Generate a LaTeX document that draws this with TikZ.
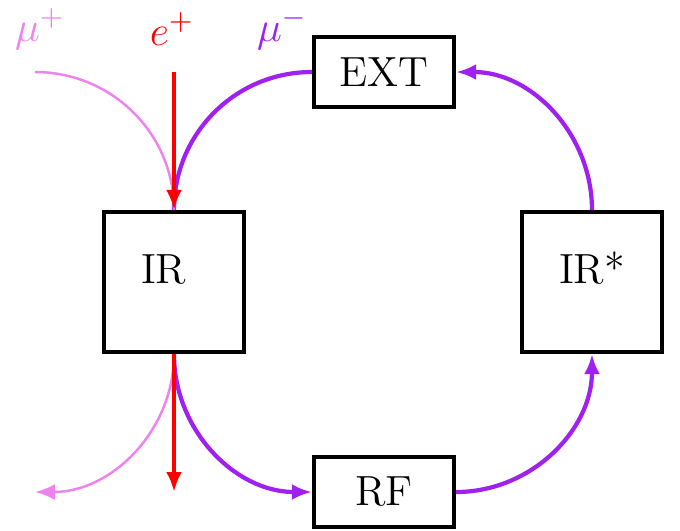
\documentclass[tikz,border=0pt]{standalone}
\usetikzlibrary{
  arrows.meta,
  positioning
}
\definecolor{mupurple}{RGB}{160,32,240}
\definecolor{mupink}{RGB}{238,130,238}

\begin{document}
\begin{tikzpicture}[
  font=\large,
  ring/.style={
    rectangle, draw=black, line width=1.2pt, fill=white,
    minimum width=1.4cm, minimum height=1.4cm, align=center,
    text depth=0.28cm
  },
  insert/.style={
    ring, minimum height=0.7cm, text depth=
  },
  muminus/.style={-{Latex[length=2mm,width=1.6mm]}, mupurple, line width=1.2pt},
  muplus/.style={-{Latex[length=2mm,width=1.6mm]}, mupink, line width=0.7pt},
  positron/.style={-{Latex[length=2mm,width=1.6mm]}, red, line width=1.2pt},
]
\useasboundingbox (0,0) rectangle (6.8,-5.3);

% Ring elements
\node[ring]   (ir)    at (1.74, -2.82) {IR\phantom{*}};
\node[ring]   (irs)   at (5.92, -2.82) {IR*};
\node[insert] (ext)   at (3.84, -0.72) {EXT};
\node[insert] (rf)    at (3.84, -4.92) {RF};

% Beam labels
\node[mupink]   (lmup) at (0.40, -0.29) {$\mu^+$};
\node[red]      (lep)  at (1.72, -0.29) {$e^+$};
\node[mupurple] (lmum) at (2.82, -0.29) {$\mu^-$};

% Free ends of the incoming and outgoing beams
\coordinate (mupin)  at (0.35, -0.72);
\coordinate (epin)   at (1.74, -0.72);
\coordinate (mupout) at (0.35, -4.92);
\coordinate (epout)  at (1.74, -4.92);

% mu- ring
\draw[muminus, -] (ext.west) to[out=180, in=90] (ir.north);
\draw[muminus] (ir.south) to[out=-90, in=180] (rf.west);
\draw[muminus] (rf.east) to[out=0, in=-90] (irs.south);
\draw[muminus] (irs.north) to[out=90, in=0] (ext.east);

% mu+ through IR
\draw[muplus, -] (mupin) to[out=0, in=90] (ir.north);
\draw[muplus] (ir.south) to[out=-90, in=0] (mupout);

% e+ beam
\draw[positron] (epin) -- (ir.north);
\draw[positron] (ir.south) -- (epout);

\end{tikzpicture}
\end{document}
